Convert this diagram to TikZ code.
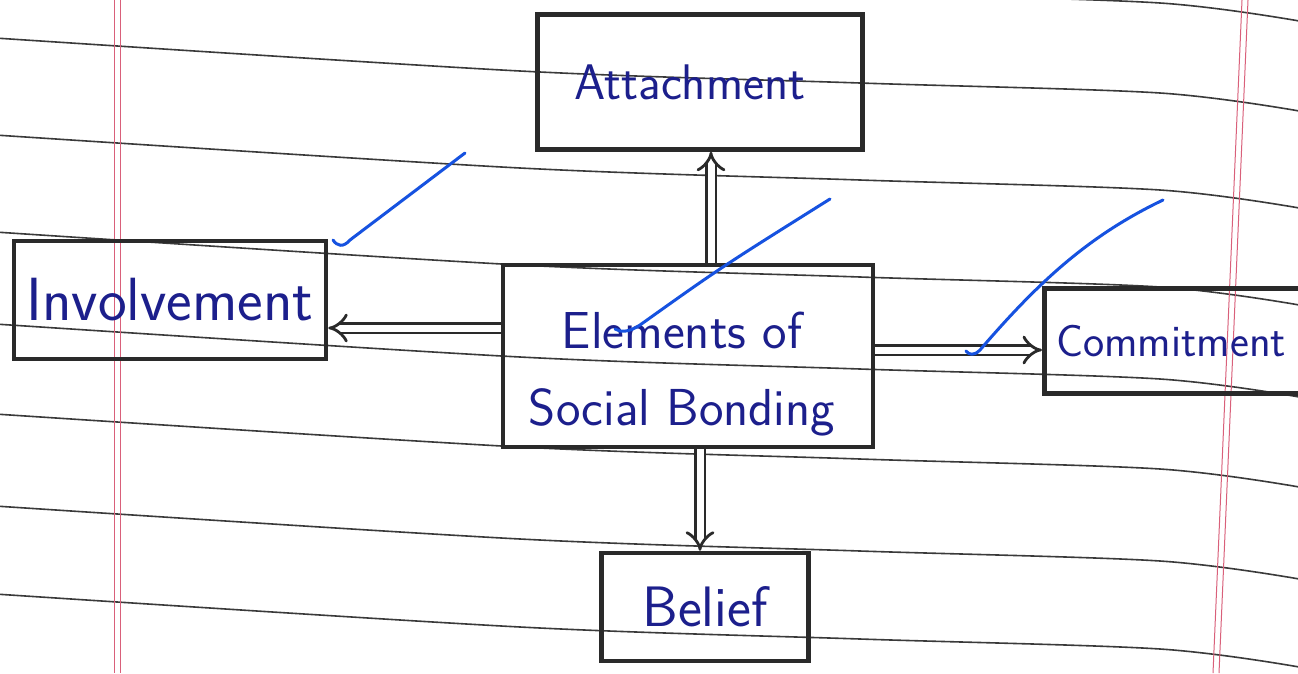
\documentclass[tikz,border=0pt]{standalone}
\usetikzlibrary{arrows.meta,calc}
\definecolor{ink}{HTML}{1C1F8C}
\definecolor{tick}{HTML}{1652E0}
\definecolor{margin}{HTML}{D9607A}
\definecolor{pen}{HTML}{2A2A2A}
\definecolor{rule}{HTML}{3A3A3A}
\tikzset{
  box/.style={draw=pen, line width=4.5pt, inner sep=0pt, text=ink},
  label/.style={text=ink, inner sep=0pt},
  dblarrow/.style={draw=pen, line width=2.8pt, double=white, double distance=7pt, -{Implies}},
  checkmark/.style={draw=tick, line width=3pt, line cap=round, line join=round},
  pageline/.style={draw=rule, line width=1.6pt},
  marginline/.style={draw=margin, line width=1pt}
}
\begin{document}
\begin{tikzpicture}[x=1pt, y=-1pt]
\useasboundingbox (0,0) rectangle (1298,673);
\fill[white] (0,0) rectangle (1298,673);
\clip (0,0) rectangle (1298,673);
% ruled paper lines
\foreach \yy in {-52,38,135,232,324,414,506,594}{
  \draw[pageline] plot[smooth] coordinates {(-5,{\yy}) (520,{\yy+33}) (860,{\yy+45}) (1160,{\yy+55}) (1305,{\yy+74})};
}
% margin lines
\draw[marginline] (114,0) -- (114,673);
\draw[marginline] (120,0) -- (120,673);
\draw[marginline] (1242,0) -- (1213,673);
\draw[marginline] (1248,0) -- (1219,673);

% boxes
\node[box, minimum width=325pt, minimum height=135pt, font=\sffamily\fontsize{50}{54}\selectfont] (attach) at (700,82)
  {\hspace*{-20pt}Attachment};
\node[box, minimum width=312pt, minimum height=118pt, font=\sffamily\fontsize{61}{64}\selectfont] (invol) at (170,300)
  {Involvement};
\node[box, minimum width=370pt, minimum height=182pt] (center) at (688,356) {};
\node[label, align=center, font=\sffamily\fontsize{52}{77}\selectfont] (centertext) at (682,374)
  {Elements of\\Social Bonding};
\node[box, anchor=west, text width=300pt, align=left, inner xsep=12pt, minimum height=105pt, font=\sffamily\fontsize{45}{50}\selectfont] (commit) at (1042,341)
  {Commitment};
\node[box, minimum width=207pt, minimum height=108pt, font=\sffamily\fontsize{57}{60}\selectfont] (belief) at (705,607)
  {Belief};

% double arrows
\draw[dblarrow] ([xshift=23pt]center.north) -- ([xshift=11pt]attach.south);
\draw[dblarrow] ([yshift=28pt]center.west) -- ([yshift=-28pt]invol.east);
\draw[dblarrow] ([yshift=6pt]center.east) -- ([yshift=-9pt]commit.west);
\draw[dblarrow] ([xshift=12pt]center.south) -- ([xshift=-5pt]belief.north);

% blue check marks
\coordinate (t1a) at (333,240); \coordinate (t1b) at (465,153);
\draw[checkmark] (t1a) .. controls (337,246) and (343,248) .. (350,240) -- (t1b);
\coordinate (t2a) at (615,329); \coordinate (t2b) at (830,199);
\draw[checkmark] (t2a) .. controls (620,332) and (628,333) .. (640,325) .. controls (720,268) .. (t2b);
\coordinate (t3a) at (966,351); \coordinate (t3b) at (1163,200);
\draw[checkmark] (t3a) .. controls (969,355) and (974,356) .. (980,350) .. controls (1040,280) and (1090,235) .. (t3b);
\end{tikzpicture}
\end{document}
